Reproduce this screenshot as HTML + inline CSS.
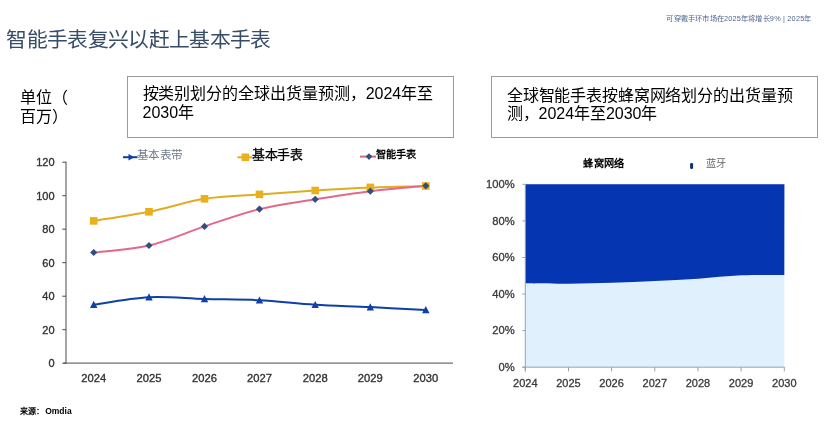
<!DOCTYPE html>
<html lang="zh-CN">
<head>
<meta charset="utf-8">
<title>智能手表复兴以赶上基本手表</title>
<style>
  html,body{margin:0;padding:0;background:#fff;}
  body{width:840px;height:424px;position:relative;overflow:hidden;font-family:"Liberation Sans",sans-serif;color:#000;}
  #page{position:absolute;left:0;top:0;width:840px;height:424px;background:#fff;filter:blur(0.4px);}
  .abs{position:absolute;white-space:nowrap;}
  #hdr{right:28.4px;top:13.8px;font-size:7.3px;letter-spacing:0.2px;color:#4f6690;line-height:9px;}
  #title{left:6.4px;top:26.3px;font-size:20.8px;letter-spacing:-0.67px;line-height:28px;color:#384c68;}
  #unit{left:20.1px;top:87.8px;font-size:16px;line-height:19.25px;}
  .box{position:absolute;border:1px solid #9a9a9a;box-sizing:border-box;background:#fff;}
  .box p{margin:0;position:absolute;left:14.5px;top:8.2px;font-size:16px;line-height:18.5px;white-space:nowrap;}
  #box2 p{left:14.8px;top:9.7px;line-height:18px;letter-spacing:-0.13px;}
  .n{letter-spacing:0;}
  #box1 p{letter-spacing:-0.06px;}
  #box1{left:127px;top:76px;width:327px;height:62px;}
  #box2{left:491px;top:76px;width:327px;height:62px;}
  #src{left:19.8px;top:406.2px;font-size:8px;line-height:11px;font-weight:bold;}
  #src span{font-size:8.5px;margin-left:1.4px;}
  .lg{position:absolute;white-space:nowrap;}
  #lg1{left:136.5px;top:147.3px;font-size:11.6px;letter-spacing:-0.42px;line-height:16px;color:#707a8c;}
  #lg2{left:251.7px;top:146.4px;font-size:12.9px;letter-spacing:-0.1px;line-height:18px;color:#000;-webkit-text-stroke:0.3px #000;}
  #lg3{left:375.7px;top:146.8px;font-size:10.2px;letter-spacing:0.2px;line-height:15px;color:#000;font-weight:bold;}
  #lg4{left:583.4px;top:155.9px;font-size:10.2px;letter-spacing:0.27px;line-height:15px;color:#000;font-weight:bold;}
  #lg5{left:706px;top:155.9px;font-size:10.2px;line-height:15px;color:#666;}
  svg{position:absolute;left:0;top:0;}
  svg text{font-family:"Liberation Sans",sans-serif;}
</style>
</head>
<body>
<div id="page">
<div id="hdr" class="abs">可穿戴手环市场在2025年将增长9% | 2025年</div>
<div id="title" class="abs">智能手表复兴以赶上基本手表</div>
<div id="unit" class="abs">单位（<br>百万）</div>
<div id="box1" class="box"><p>按类别划分的全球出货量预测，<span class="n">2024</span>年至<br><span class="n">2030</span>年</p></div>
<div id="box2" class="box"><p>全球智能手表按蜂窝网络划分的出货量预<br>测，<span class="n">2024</span>年至<span class="n">2030</span>年</p></div>

<svg width="840" height="424" viewBox="0 0 840 424">
  <g id="left">
    <g stroke="#4a4a4a" stroke-width="1">
      <line x1="66" y1="161.7" x2="66" y2="363.6"/>
      <line x1="63.5" y1="363.1" x2="453" y2="363.1"/>
      <line x1="62.3" y1="162.2" x2="66" y2="162.2"/><line x1="62.3" y1="195.7" x2="66" y2="195.7"/><line x1="62.3" y1="229.2" x2="66" y2="229.2"/><line x1="62.3" y1="262.7" x2="66" y2="262.7"/><line x1="62.3" y1="296.2" x2="66" y2="296.2"/><line x1="62.3" y1="329.7" x2="66" y2="329.7"/><line x1="62.3" y1="363.2" x2="66" y2="363.2"/>
    </g>
    <g font-size="11" fill="#333" stroke="#333" stroke-width="0.35" text-anchor="end"><text x="54.6" y="166.1">120</text><text x="54.6" y="199.6">100</text><text x="54.6" y="233.1">80</text><text x="54.6" y="266.6">60</text><text x="54.6" y="300.1">40</text><text x="54.6" y="333.6">20</text><text x="54.6" y="367.1">0</text></g>
    <g font-size="11.2" fill="#333" stroke="#333" stroke-width="0.35" text-anchor="middle"><text x="93.7" y="382.2">2024</text><text x="149.0" y="382.2">2025</text><text x="204.5" y="382.2">2026</text><text x="259.5" y="382.2">2027</text><text x="315.2" y="382.2">2028</text><text x="370.3" y="382.2">2029</text><text x="425.8" y="382.2">2030</text></g>
    <path d="M93.7,220.9 C102.9,219.4 130.5,215.5 149.0,211.8 C167.5,208.1 186.1,201.7 204.5,198.8 C222.9,195.9 241.1,195.8 259.5,194.4 C277.9,193.0 296.7,191.7 315.2,190.5 C333.7,189.3 351.9,188.2 370.3,187.4 C388.7,186.7 416.6,186.2 425.8,186.0" fill="none" stroke="#dfac24" stroke-width="2.0" stroke-linecap="round"/>
    <path d="M93.7,252.5 C102.9,251.3 130.5,249.8 149.0,245.5 C167.5,241.2 186.1,232.5 204.5,226.4 C222.9,220.3 241.1,213.6 259.5,209.1 C277.9,204.6 296.7,202.3 315.2,199.3 C333.7,196.3 351.9,193.4 370.3,191.2 C388.7,188.9 416.6,186.7 425.8,185.8" fill="none" stroke="#e4688a" stroke-width="2.0" stroke-linecap="round"/>
    <path d="M93.7,304.7 C102.9,303.4 130.5,298.1 149.0,297.2 C167.5,296.2 186.1,298.5 204.5,299.0 C222.9,299.5 241.1,299.3 259.5,300.3 C277.9,301.3 296.7,303.7 315.2,304.8 C333.7,305.9 351.9,306.2 370.3,307.1 C388.7,308.0 416.6,309.5 425.8,310.0" fill="none" stroke="#0f3fa8" stroke-width="2.0" stroke-linecap="round"/>
    <rect x="89.9" y="217.1" width="7.6" height="7.6" fill="#e9b01c"/><rect x="145.2" y="208.0" width="7.6" height="7.6" fill="#e9b01c"/><rect x="200.7" y="195.0" width="7.6" height="7.6" fill="#e9b01c"/><rect x="255.7" y="190.6" width="7.6" height="7.6" fill="#e9b01c"/><rect x="311.4" y="186.7" width="7.6" height="7.6" fill="#e9b01c"/><rect x="366.5" y="183.6" width="7.6" height="7.6" fill="#e9b01c"/><rect x="422.0" y="182.2" width="7.6" height="7.6" fill="#e9b01c"/>
    <path d="M93.7,248.9 l3.6,3.6 l-3.6,3.6 l-3.6,-3.6 Z" fill="#2f4f80"/><path d="M149.0,241.9 l3.6,3.6 l-3.6,3.6 l-3.6,-3.6 Z" fill="#2f4f80"/><path d="M204.5,222.8 l3.6,3.6 l-3.6,3.6 l-3.6,-3.6 Z" fill="#2f4f80"/><path d="M259.5,205.5 l3.6,3.6 l-3.6,3.6 l-3.6,-3.6 Z" fill="#2f4f80"/><path d="M315.2,195.7 l3.6,3.6 l-3.6,3.6 l-3.6,-3.6 Z" fill="#2f4f80"/><path d="M370.3,187.6 l3.6,3.6 l-3.6,3.6 l-3.6,-3.6 Z" fill="#2f4f80"/><path d="M425.8,182.2 l3.6,3.6 l-3.6,3.6 l-3.6,-3.6 Z" fill="#2f4f80"/>
    <path d="M93.7,300.8 l3.7,7.2 l-7.4,0 Z" fill="#0f3fa8"/><path d="M149.0,293.3 l3.7,7.2 l-7.4,0 Z" fill="#0f3fa8"/><path d="M204.5,295.1 l3.7,7.2 l-7.4,0 Z" fill="#0f3fa8"/><path d="M259.5,296.4 l3.7,7.2 l-7.4,0 Z" fill="#0f3fa8"/><path d="M315.2,300.9 l3.7,7.2 l-7.4,0 Z" fill="#0f3fa8"/><path d="M370.3,303.2 l3.7,7.2 l-7.4,0 Z" fill="#0f3fa8"/><path d="M425.8,306.1 l3.7,7.2 l-7.4,0 Z" fill="#0f3fa8"/>
    <!-- legend markers -->
    <line x1="123" y1="157.2" x2="137.5" y2="157.2" stroke="#0f3fa8" stroke-width="2"/>
    <path d="M128.5,153.9 L134.3,157.2 L128.5,160.5 Z" fill="#0f3fa8"/>
    <line x1="237.5" y1="157.3" x2="252" y2="157.3" stroke="#e3ab1c" stroke-width="2"/>
    <rect x="241.6" y="153.5" width="7.6" height="7.6" fill="#e9b01c"/>
    <line x1="360" y1="156.6" x2="376" y2="156.6" stroke="#e4607f" stroke-width="2"/>
    <path d="M369.0,153.3 l3.3,3.3 l-3.3,3.3 l-3.3,-3.3 Z" fill="#2f4f80"/>
  </g>
  <g id="right">
    <rect x="525.3" y="184.3" width="259.1" height="182.9" fill="#e0f0fd"/>
    <path d="M525.3,184.3 L784.4,184.3 L784.3,275.0 C777.1,275.1 755.5,274.7 741.1,275.3 C726.8,275.9 712.4,277.8 698.0,278.7 C683.6,279.6 669.2,280.3 654.8,281.0 C640.4,281.7 626.0,282.2 611.6,282.7 C597.2,283.1 582.9,283.6 568.5,283.7 C554.1,283.8 532.5,283.4 525.3,283.3 Z" fill="#0535b0"/>
    <g stroke="#98a2ad" stroke-width="1">
      <line x1="525.3" y1="184.3" x2="525.3" y2="371.4"/>
      <line x1="522.3" y1="367.2" x2="784.4" y2="367.2"/>
      <line x1="522.3" y1="184.3" x2="525.3" y2="184.3"/><line x1="522.3" y1="220.9" x2="525.3" y2="220.9"/><line x1="522.3" y1="257.5" x2="525.3" y2="257.5"/><line x1="522.3" y1="294.0" x2="525.3" y2="294.0"/><line x1="522.3" y1="330.6" x2="525.3" y2="330.6"/><line x1="522.3" y1="367.2" x2="525.3" y2="367.2"/>
      <line x1="525.3" y1="367.2" x2="525.3" y2="371.4"/><line x1="568.5" y1="367.2" x2="568.5" y2="371.4"/><line x1="611.6" y1="367.2" x2="611.6" y2="371.4"/><line x1="654.8" y1="367.2" x2="654.8" y2="371.4"/><line x1="698.0" y1="367.2" x2="698.0" y2="371.4"/><line x1="741.1" y1="367.2" x2="741.1" y2="371.4"/><line x1="784.3" y1="367.2" x2="784.3" y2="371.4"/>
    </g>
    <g font-size="11.2" fill="#3a3a3a" stroke="#3a3a3a" stroke-width="0.3" text-anchor="end"><text x="514.6" y="188.1">100%</text><text x="514.6" y="224.7">80%</text><text x="514.6" y="261.3">60%</text><text x="514.6" y="297.8">40%</text><text x="514.6" y="334.4">20%</text><text x="514.6" y="371.0">0%</text></g>
    <g font-size="11" fill="#3a3a3a" stroke="#3a3a3a" stroke-width="0.3" text-anchor="middle"><text x="525.3" y="387.2">2024</text><text x="568.5" y="387.2">2025</text><text x="611.6" y="387.2">2026</text><text x="654.8" y="387.2">2027</text><text x="698.0" y="387.2">2028</text><text x="741.1" y="387.2">2029</text><text x="784.3" y="387.2">2030</text></g>
    <rect x="690.1" y="163.0" width="3" height="6" rx="1.3" fill="#0d3070"/>
  </g>
</svg>
<div id="lg1" class="lg">基本表带</div>
<div id="lg2" class="lg">基本手表</div>
<div id="lg3" class="lg">智能手表</div>
<div id="lg4" class="lg">蜂窝网络</div>
<div id="lg5" class="lg">蓝牙</div>
<div id="src" class="abs">来源：<span>Omdia</span></div>
</div>
</body>
</html>
